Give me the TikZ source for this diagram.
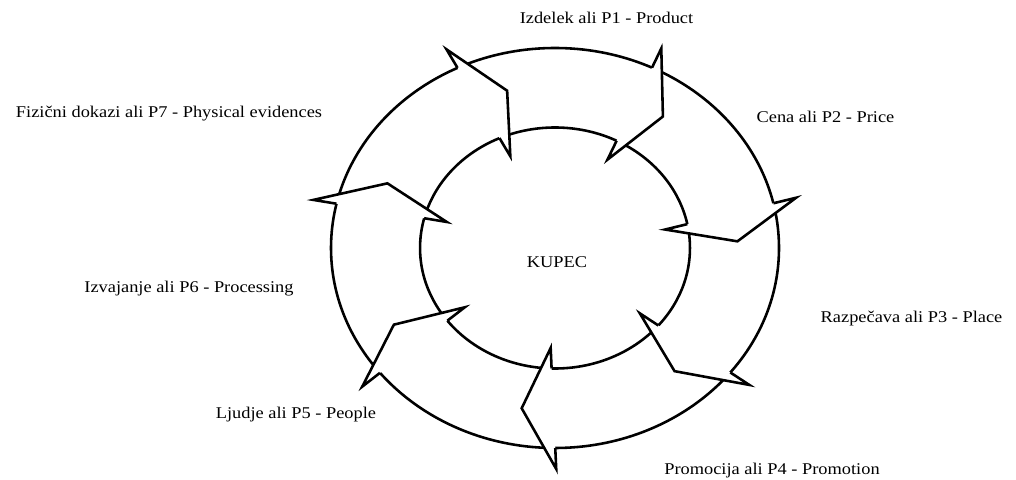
\documentclass[tikz,border=0pt]{standalone}
\usepackage{fontspec}
\setmainfont{Liberation Serif}[FakeStretch=1.12]
\usetikzlibrary{intersections,calc}
\begin{document}
\begin{tikzpicture}[x=0.03cm,y=0.03cm,
  ring/.style={line width=2.2pt},
  headfill/.style={fill=white},
  headline/.style={line width=2.2pt, line join=miter, miter limit=20},
  lbl/.style={font=\fontsize{14}{16}\selectfont, inner sep=0pt}]
\useasboundingbox (0,0) rectangle (1016,480);
\begin{scope}[shift={(555,232)}, xscale=1.12]
  \draw[ring, name path=outer] (0,0) circle[radius=200];
  \draw[ring, name path=inner] (0,0) circle[radius=120.5];
  \foreach \k in {0,...,6} {
    \pgfmathsetmacro{\a}{116-51.4286*\k}
    \coordinate (ob\k) at (\a:221);
    \coordinate (ib\k) at ({\a-2.5}:100);
    \coordinate (tp\k) at ({\a-10.8}:163);
    \path[name path=base\k] (ob\k) -- (ib\k);
    \path[name intersections={of=outer and base\k, by=oc\k}];
    \path[name intersections={of=inner and base\k, by=ic\k}];
    \fill[headfill] (ob\k) -- (tp\k) -- (ib\k) -- cycle;
    \draw[headline] (oc\k) -- (ob\k) -- (tp\k) -- (ib\k) -- (ic\k);
  }
\end{scope}
\node[lbl] (kupec) at (557,218) {KUPEC};
\node[lbl] (p1) at (606.5,462) {Izdelek ali P1 - Product};
\node[lbl] (p2) at (825.5,363) {Cena ali P2 - Price};
\node[lbl] (p3) at (911.5,161) {Razpečava ali P3 - Place};
\node[lbl] (p4) at (772,9) {Promocija ali P4 - Promotion};
\node[lbl] (p5) at (296,65) {Ljudje ali P5 - People};
\node[lbl] (p6) at (189,191) {Izvajanje ali P6 - Processing};
\node[lbl] (p7) at (169,366) {Fizični dokazi ali P7 - Physical evidences};
\end{tikzpicture}
\end{document}
